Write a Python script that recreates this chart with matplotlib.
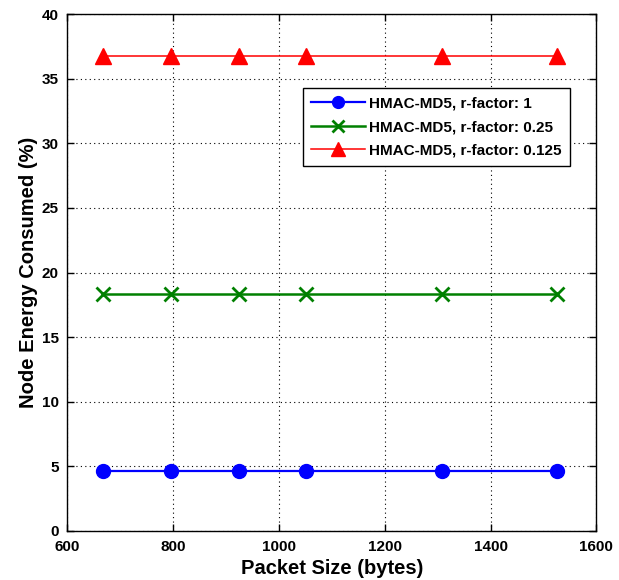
import matplotlib
matplotlib.use("Agg")
import matplotlib.pyplot as plt

# packet sizes (bytes) and node energy consumed (%)
packet_size = [668, 796, 924, 1052, 1308, 1526]
energy_r1 = [4.6, 4.6, 4.6, 4.6, 4.6, 4.6]
energy_r025 = [18.35, 18.35, 18.35, 18.35, 18.35, 18.35]
energy_r0125 = [36.8, 36.8, 36.8, 36.8, 36.8, 36.8]

labels = ['HMAC-MD5, r-factor: 1', 'HMAC-MD5, r-factor: 0.25', 'HMAC-MD5, r-factor: 0.125']
x_ticks = [600, 800, 1000, 1200, 1400, 1600]
y_ticks = [0, 5, 10, 15, 20, 25, 30, 35, 40]

plt.rcParams['font.family'] = ['Liberation Sans', 'DejaVu Sans']
plt.rcParams['font.weight'] = 'bold'

fig = plt.figure(figsize=(6.19, 5.8), dpi=100)
ax = fig.add_axes([67.3 / 619, (580 - 530.7) / 580, 529 / 619, 516.4 / 580])

ax.plot(packet_size, energy_r1, color='#0000ff', lw=1.6, marker='o', ms=10, label=labels[0])
ax.plot(packet_size, energy_r025, color='#008000', lw=1.8, marker='x', ms=9.5, mew=2, label=labels[1])
ax.plot(packet_size, energy_r0125, color='#ff0000', lw=1.1, marker='^', ms=12, label=labels[2])

ax.set_xlim(600, 1600)
ax.set_ylim(0, 40)
ax.set_xticks(x_ticks)
ax.set_yticks(y_ticks)
ax.tick_params(direction='in', top=True, right=True, labelsize=11, length=5, width=1)
ax.tick_params(axis='x', pad=7)
ax.tick_params(axis='y', pad=6)
for lab in ax.get_xticklabels() + ax.get_yticklabels():
    lab.set_fontweight('bold')
ax.grid(True, linestyle=(0, (1, 3)), color='black', linewidth=0.8)
for sp in ax.spines.values():
    sp.set_linewidth(1)

ax.set_xlabel('Packet Size (bytes)', fontsize=14.5, fontweight='bold', labelpad=3)
ax.set_ylabel('Node Energy Consumed (%)', fontsize=14.5, fontweight='bold', labelpad=3)

leg = ax.legend(loc='upper left', bbox_to_anchor=((302.7 - 67.3) / 529, (530.7 - 88.3) / 516.4),
                fontsize=11, handlelength=3.5, labelspacing=0.62, borderpad=0.55,
                handletextpad=0.3, borderaxespad=0, fancybox=False, framealpha=1,
                edgecolor='black', markerscale=0.85)
leg.get_frame().set_linewidth(1)
for t in leg.get_texts():
    t.set_fontweight('bold')

fig.savefig('out.png', dpi=100)
